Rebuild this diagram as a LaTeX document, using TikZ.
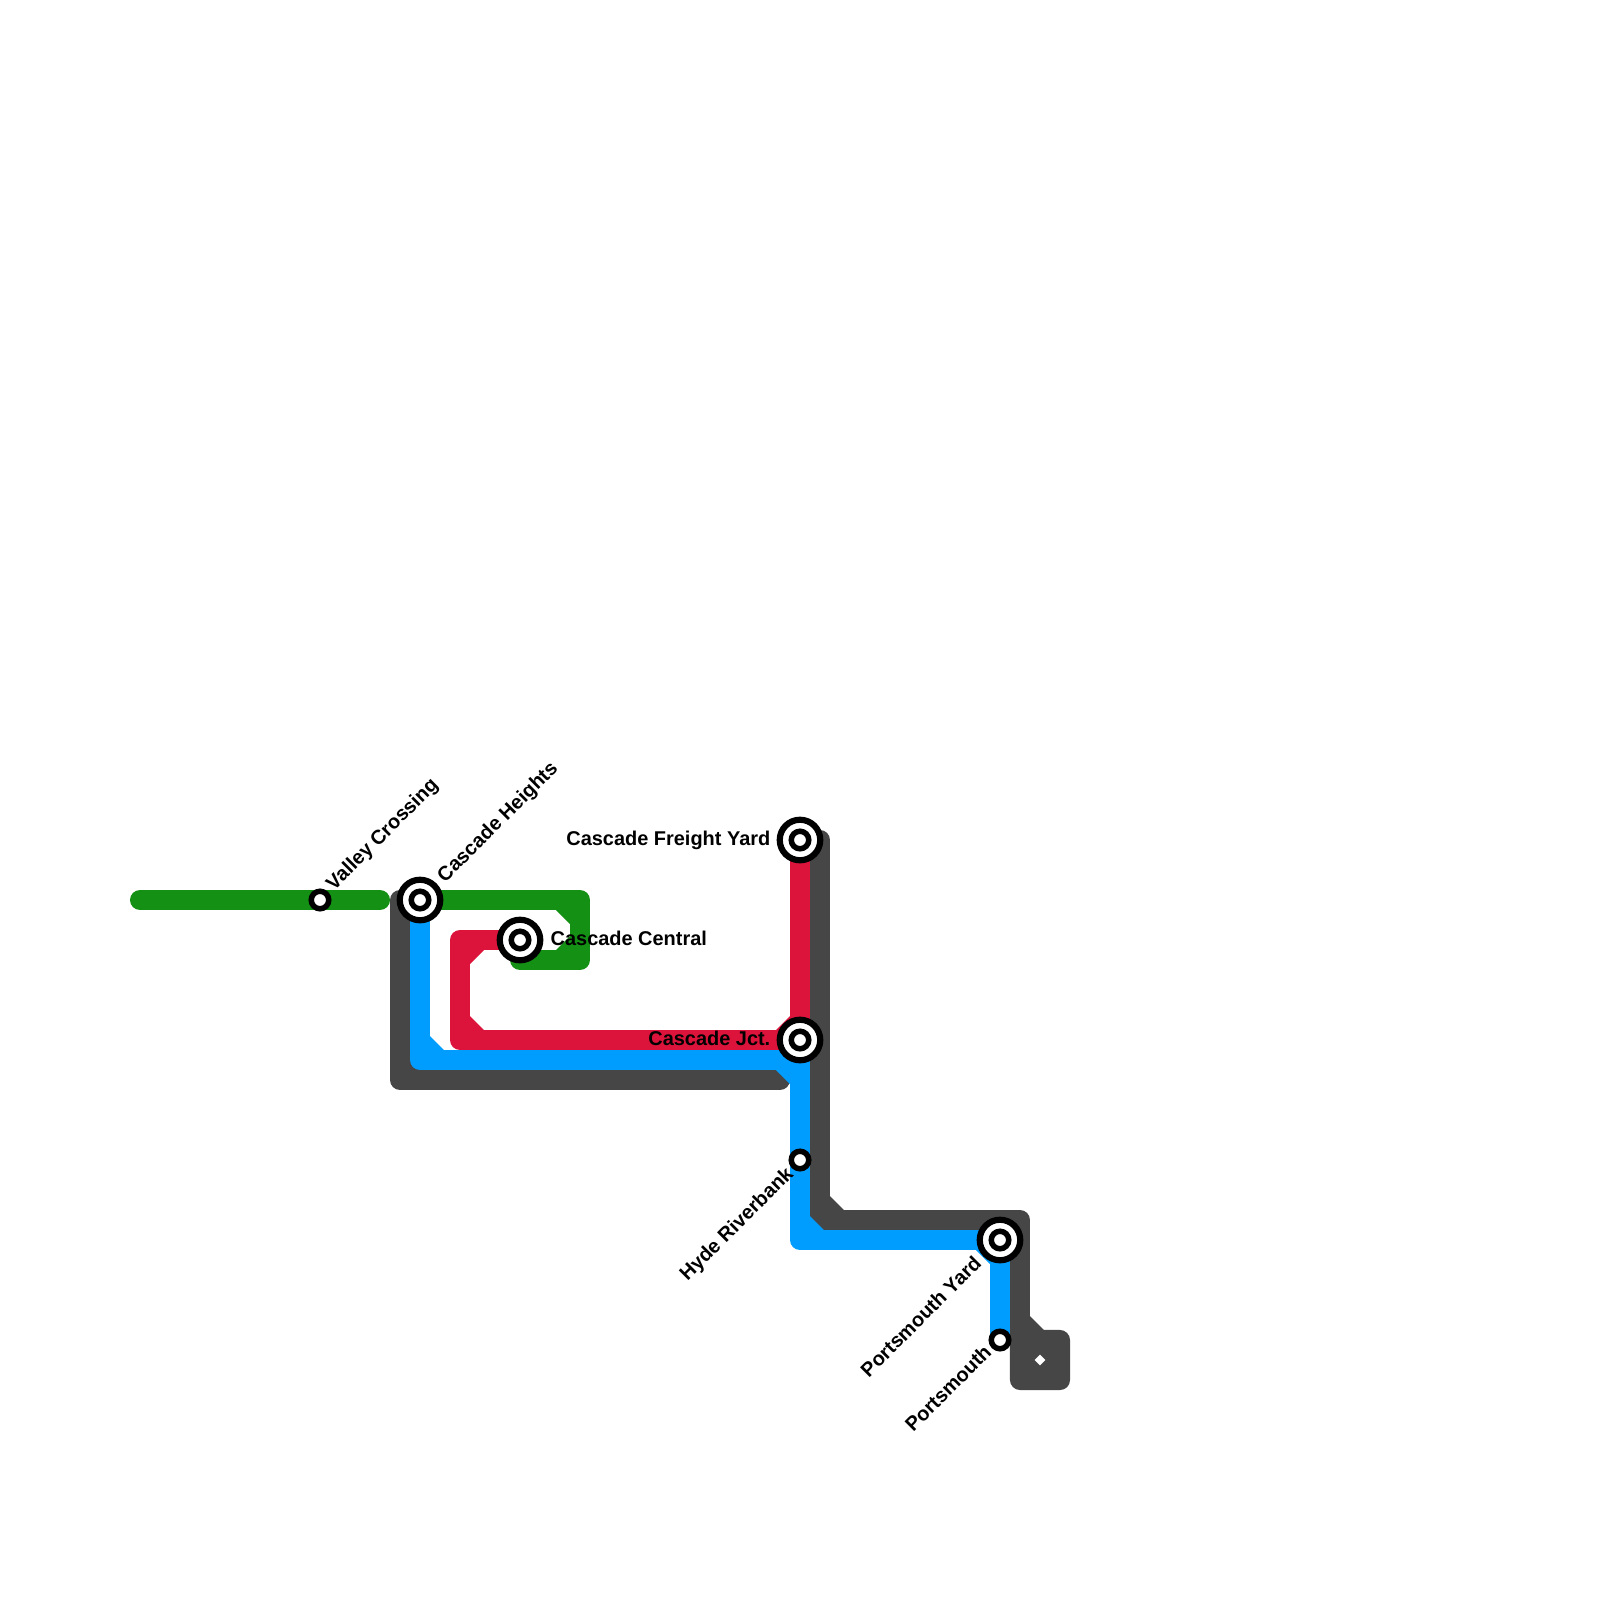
\documentclass[tikz,border=0pt]{standalone}
\usepackage{fontspec}
\setmainfont{Liberation Sans}
\usetikzlibrary{backgrounds, shapes.geometric}

\definecolor{darkline}{RGB}{70,70,70}
\definecolor{redline}{RGB}{220,20,60}
\definecolor{greenline}{RGB}{20,145,20}
\definecolor{blueline}{RGB}{0,157,255}

\begin{document}
\begin{tikzpicture}[
  x=0.01cm, y=-0.01cm,
  route/.style={line width=0.2cm, line cap=round, line join=round},
  stop/.style={circle, draw=black, fill=white, line width=0.055cm,
               minimum size=0.175cm, inner sep=0pt},
  hub/.style={circle, draw=black, fill=white, line width=0.062cm,
              minimum size=0.405cm, inner sep=0pt},
  lbl/.style={font=\fontsize{5.67pt}{6.8pt}\selectfont\bfseries, inner sep=0pt}
]
  \useasboundingbox (0,0) rectangle (1600,1600);

  % stations
  \node[stop] (valley) at (320,900) {};
  \node[hub] (heights) at (420,900) {};
  \node[hub] (central) at (520,940) {};
  \node[hub] (freight) at (800,840) {};
  \node[hub] (jct) at (800,1040) {};
  \node[stop] (hyde) at (800,1160) {};
  \node[hub] (yard) at (1000,1240) {};
  \node[stop] (ports) at (1000,1340) {};
  \foreach \hubname in {heights, central, freight, jct, yard}
    \node[stop] at (\hubname) {};

  % labels
  \node[lbl, rotate=45, anchor=west] (lblvalley) at (330,888) {Valley Crossing};
  \node[lbl, rotate=45, anchor=west] (lblheights) at (441,880) {Cascade Heights};
  \node[lbl, anchor=west] (lblcentral) at (550,938) {Cascade Central};
  \node[lbl, anchor=east] (lblfreight) at (771,840) {Cascade Freight Yard};
  \node[lbl, anchor=east] (lbljct) at (771,1038) {Cascade Jct.};
  \node[lbl, rotate=45, anchor=east] (lblhyde) at (791,1171) {Hyde Riverbank};
  \node[lbl, rotate=45, anchor=east] (lblyard) at (978,1259) {Portsmouth Yard};
  \node[lbl, rotate=45, anchor=east] (lblports) at (988,1348) {Portsmouth};

  % corners
  \coordinate (gstart) at (140,900);
  \coordinate (gend) at (380,900);
  \coordinate (gtr) at (580,900);
  \coordinate (gbr) at (580,960);
  \coordinate (gbl) at (520,960);
  \coordinate (dtl) at (400,900);
  \coordinate (dbl) at (400,1080);
  \coordinate (dend) at (780,1080);
  \coordinate (dtop) at (820,840);
  \coordinate (dmid) at (820,1220);
  \coordinate (dright) at (1020,1220);
  \coordinate (dlow) at (1020,1340);
  \coordinate (rbr) at (800,1040);
  \coordinate (rbl) at (460,1040);
  \coordinate (rtl) at (460,940);
  \coordinate (bbl) at (420,1060);
  \coordinate (bbr) at (800,1060);
  \coordinate (bmid) at (800,1240);

  \begin{scope}[on background layer]
    % dark lines
    \draw[route, darkline] (dtl) -- (dbl) -- (dend);
    \draw[route, darkline] (dtop) -- (dmid) -- (dright) -- (dlow);
    \node[rectangle, rounded corners=0.1cm, minimum size=0.6cm, inner sep=0pt,
          fill=darkline] (depot) at (1040,1360) {};
    \draw[route, darkline] (dlow) -- (depot.center);
    \node[diamond, fill=white, minimum size=0.115cm, inner sep=0pt] (depotmark) at (depot.center) {};
    \foreach \cx/\cy/\sx/\sy in {410/1070/14/-14, 830/1210/14/-14, 1030/1330/14/-14}
      \fill[darkline] (\cx,\cy) -- +(\sx,0) -- +(0,\sy) -- cycle;

    % red line
    \draw[route, redline] (freight.center) -- (rbr) -- (rbl) -- (rtl) -- (central.center);
    \foreach \cx/\cy/\sx/\sy in {790/1030/-14/-14, 470/950/14/14, 470/1030/14/-14}
      \fill[redline] (\cx,\cy) -- +(\sx,0) -- +(0,\sy) -- cycle;

    % green lines
    \draw[route, greenline] (gstart) -- (valley.center) -- (gend);
    \draw[route, greenline] (heights.center) -- (gtr) -- (gbr) -- (gbl);
    \foreach \cx/\cy/\sx/\sy in {570/910/-14/14, 570/950/-14/-14}
      \fill[greenline] (\cx,\cy) -- +(\sx,0) -- +(0,\sy) -- cycle;

    % blue line
    \draw[route, blueline] (heights.center) -- (bbl) -- (bbr) -- (hyde.center) -- (bmid) -- (yard.center) -- (ports.center);
    \foreach \cx/\cy/\sx/\sy in {430/1050/14/-14, 790/1070/-14/14, 810/1230/14/-14, 990/1250/-14/14}
      \fill[blueline] (\cx,\cy) -- +(\sx,0) -- +(0,\sy) -- cycle;
  \end{scope}
\end{tikzpicture}
\end{document}
